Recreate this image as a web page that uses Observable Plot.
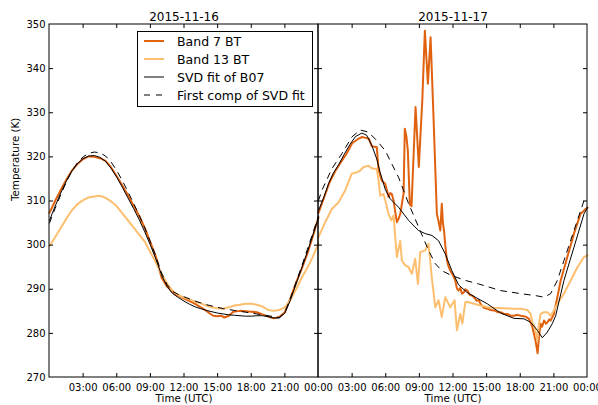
<!DOCTYPE html>
<html>
<head>
<meta charset="utf-8">
<script src="https://cdn.jsdelivr.net/npm/d3@7"></script>
<script src="https://cdn.jsdelivr.net/npm/@observablehq/plot@0.6"></script>
<style>
  body { margin: 0; background: #fff; }
  #wrap { position: relative; width: 598px; height: 405px; font-family: "DejaVu Sans", sans-serif; }
  #legend { position: absolute; left: 137px; top: 31px; width: 174px; height: 74px; border: 1px solid #000; background: #fff; font-size: 12.5px; color: #000; }
  #legend .row { display: flex; align-items: center; height: 18px; }
  #legend svg { margin-left: 6px; margin-right: 13px; }
</style>
</head>
<body>
<div id="wrap"></div>
<script>
// ---- data (hours since 00:00 UTC of each day, temperature K) ----
const dayTitles = ["2015-11-16", "2015-11-17"];
const dayOffsets = [0, 24];
const seriesNames = ["Band 7 BT", "Band 13 BT", "SVD fit of B07", "First comp of SVD fit"];
const yTicks = [270, 280, 290, 300, 310, 320, 330, 340, 350];
const xTicks = [3, 6, 9, 12, 15, 18, 21, 24, 27, 30, 33, 36, 39, 42, 45, 48];

const band7_d1 = [[0,307.3],[0.5,310],[1,312.5],[1.5,314.8],[2,316.9],[2.5,318.4],[3,319.5],[3.5,320.1],[4,320],[4.5,319.7],[5,319.1],[5.5,317.6],[6,315.6],[6.5,313.5],[7,311.3],[7.5,309],[8,306.6],[8.5,303.9],[9,300.6],[9.5,297.3],[10,292.6],[10.5,290.6],[11,289.3],[11.5,288.5],[12,287.9],[12.5,287.3],[13,286.7],[13.5,285.9],[14,285.1],[14.3,284.5],[14.6,284.0],[15,283.9],[15.3,284.0],[15.6,283.6],[16,284.0],[16.4,284.9],[17,285.1],[17.5,285.0],[18,284.9],[18.5,284.8],[19,284.3],[19.5,283.8],[20,283.4],[20.5,283.7],[21,284.8],[21.5,288],[22,291.5],[22.5,294.6],[23,298],[23.5,302],[24,306.3]];
const band13_d1 = [[0,299.8],[0.5,301.8],[1,303.9],[1.5,306],[2,307.9],[2.5,309.3],[3,310.2],[3.5,310.8],[4,311.0],[4.5,311.2],[5,310.7],[5.5,309.9],[6,308.8],[6.5,307.2],[7,305.6],[7.5,304],[8,302.4],[8.5,300.8],[9,298.4],[9.5,296],[10,293.4],[10.5,291.3],[11,289.6],[11.5,288.7],[12,288.1],[12.5,287.7],[13,287.2],[13.5,286.8],[14,286.3],[14.5,285.9],[15,285.7],[15.5,285.6],[16,285.9],[16.5,286.3],[17,286.5],[17.5,286.7],[18,286.7],[18.5,286.5],[19,286.1],[19.5,285.3],[20,285.1],[20.5,285.3],[21,285.9],[21.5,287.6],[22,290],[22.5,292.6],[23,294.8],[23.5,297.4],[24,300.4]];
const svd_d1 = [[0,305.6],[0.5,308.8],[1,311.8],[1.5,314.5],[2,316.8],[2.5,318.5],[3,319.6],[3.5,320.2],[4,320.3],[4.5,319.9],[5,319],[5.5,317.4],[6,315.4],[6.5,313.1],[7,310.7],[7.5,308.3],[8,305.8],[8.5,303],[9,300],[9.5,296.8],[10,293.2],[10.5,290.6],[11,289],[11.5,288.1],[12,287.3],[12.5,286.6],[13,286],[13.5,285.6],[14,285.2],[14.5,284.9],[15,284.6],[15.5,284.4],[16,284.2],[16.5,284.1],[17,284],[17.5,283.9],[18,283.9],[18.5,284],[19,284],[19.5,283.8],[20,283.5],[20.5,283.5],[21,284.6],[21.5,287.6],[22,291.2],[22.5,294.8],[23,298.4],[23.5,302.3],[24,306.2]];
const comp1_d1 = [[0,305.0],[0.5,308.3],[1,311.4],[1.5,314.3],[2,316.8],[2.5,318.7],[3,320],[3.5,320.8],[4,321.1],[4.5,320.9],[5,320.2],[5.5,318.8],[6,316.9],[6.5,314.6],[7,312.1],[7.5,309.5],[8,306.8],[8.5,303.9],[9,300.8],[9.5,297.4],[10,293.7],[10.5,291],[11,289.5],[11.5,288.8],[12,288.3],[12.5,287.8],[13,287.3],[13.5,286.9],[14,286.5],[14.5,286.2],[15,285.9],[15.5,285.6],[16,285.4],[16.5,285.2],[17,285],[17.5,284.8],[18,284.6],[18.5,284.4],[19,284.2],[19.5,284],[20,283.8],[20.5,283.6],[21,284.8],[21.5,288],[22,291.6],[22.5,295.2],[23,299],[23.5,302.8],[24,306.6]];

const band7_d2 = [[0,307.3],[0.5,310.8],[1,314.3],[1.5,316.8],[2,318.8],[2.5,320.7],[3,323.1],[3.5,324.0],[3.9,324.5],[4.2,324.3],[4.5,324.1],[4.76,322.4],[5.0,322.3],[5.2,322.2],[5.36,317.0],[5.65,314.6],[5.95,313.9],[6.1,312.5],[6.25,310.9],[6.4,311.8],[6.54,311.6],[6.7,310.1],[6.85,307.5],[7.0,305.2],[7.15,306],[7.3,307.1],[7.45,309.5],[7.59,311.6],[7.7,326.4],[7.85,324.5],[7.97,321.4],[8.15,309.2],[8.3,308.8],[8.66,331.3],[8.95,317.7],[9.26,332.8],[9.49,348.6],[9.76,336.6],[10.0,347.1],[10.24,330.5],[10.56,307.1],[10.7,305.5],[10.87,303.3],[11.0,309.4],[11.1,305],[11.2,303.3],[11.33,299.5],[11.46,296.5],[11.6,295.2],[11.76,294.2],[12.0,293.2],[12.2,292.0],[12.35,290.2],[12.5,289.7],[12.65,290.3],[12.8,289.0],[12.97,289.3],[13.1,290.0],[13.28,289.7],[13.5,288.7],[13.7,288.6],[13.87,288.2],[14.1,287.4],[14.3,287.5],[14.46,286.7],[14.75,285.8],[15.06,285.6],[15.35,285.3],[15.65,285.2],[16.0,284.8],[16.25,284.8],[16.55,284.4],[16.85,284.4],[17.15,284.0],[17.44,284.0],[17.75,284.2],[18.04,284.0],[18.3,283.9],[18.48,283.8],[18.78,283.3],[18.95,282.3],[19.08,281.4],[19.22,279.9],[19.35,278.5],[19.46,276.9],[19.55,275.5],[19.67,279.1],[19.82,282.2],[19.95,281.5],[20.12,282.9],[20.3,282.2],[20.42,282.5],[20.6,283.2],[20.71,282.9],[21.0,284.4],[21.31,288.2],[21.61,292.0],[22.2,297.3],[22.79,302.6],[23.39,307.1],[23.84,308.2],[24,308.5]];
const band13_d2 = [[0,301.8],[0.6,305.2],[1.19,308.2],[1.79,309.7],[2.38,312.4],[2.97,316.2],[3.42,316.5],[3.72,316.9],[4.02,317.7],[4.46,318.0],[4.7,317.5],[4.91,317.3],[5.2,317.3],[5.36,314.6],[5.51,311.2],[5.8,311.6],[5.96,310.1],[6.25,307.1],[6.49,305.6],[6.7,306.7],[6.99,297.3],[7.29,301],[7.44,296.5],[7.74,295.4],[8.04,295.0],[8.33,293.5],[8.63,296.9],[8.87,291.2],[9.08,298.4],[9.53,298.8],[9.82,300.3],[10.12,292.4],[10.42,285.9],[10.71,287.5],[11.0,283.7],[11.31,288.2],[11.76,285.9],[12.14,287.5],[12.35,280.7],[12.65,284.4],[12.83,282.2],[13.1,287.1],[13.28,287.1],[13.87,286.7],[14.46,286.3],[15.06,285.9],[15.65,285.8],[16.54,285.7],[17.44,285.6],[18.04,285.6],[18.63,285.3],[18.93,284.4],[19.08,282.5],[19.29,281.4],[19.53,278.4],[19.67,282.2],[19.82,284.4],[20.12,284.8],[20.42,284.8],[20.71,284.0],[21.0,285.2],[21.31,286.7],[21.9,289],[22.5,292],[23.1,295],[23.69,297.3],[24,297.7]];
const svd_d2 = [[0,307.8],[0.5,311.0],[0.89,313.9],[1.3,316.2],[1.79,318.2],[2.3,320.6],[2.8,322.8],[3.3,324.6],[3.87,325.4],[4.3,324.9],[4.76,322.6],[5.2,319.5],[5.51,316.4],[5.96,312.6],[6.4,310.5],[7.14,308.6],[8.04,305.6],[8.93,303.3],[9.53,302.6],[10.12,302.2],[10.71,301],[11.31,298],[11.9,294.2],[12.5,291],[13.24,289.3],[13.99,288.2],[15.06,286.7],[16.25,284.6],[17.44,283.4],[18.33,283.3],[18.93,282.5],[19.53,280.7],[19.97,279.0],[20.42,280.3],[20.86,282.2],[21.16,284.0],[21.9,292],[22.79,299.5],[23.69,307.1],[24,308.5]];
const comp1_d2 = [[0,310.1],[0.3,312.4],[1.19,317.3],[2.08,320.7],[2.97,324.5],[3.72,326.1],[4.46,325.6],[5.2,323.7],[5.96,321.4],[6.54,318.4],[7.14,315.4],[8.04,309.4],[8.93,304.1],[9.82,298.8],[10.42,295.8],[11.0,294.2],[11.9,293.1],[13.1,292.0],[14.29,291.2],[16.25,289.7],[18.04,289.0],[19.5,288.5],[20.12,288.2],[20.71,289.0],[21.31,292],[21.9,296.5],[22.79,303.3],[23.69,310.1],[24,310.5]];

// ---- styles ----
const colors = ["#e0620f", "#fdbf6f", "#000000", "#000000"];
const widths = [2, 2, 1, 1];
const dashes = [null, null, null, "6,6"];

// ---- build rows ----
const seriesByDay = [
  [band7_d1, band13_d1, svd_d1, comp1_d1],
  [band7_d2, band13_d2, svd_d2, comp1_d2]
];
function rowsFor(k) {
  const rows = [];
  seriesByDay.forEach((list, d) => {
    list[k].forEach(([h, v]) => rows.push({t: dayOffsets[d] + h, v, day: d}));
  });
  return rows;
}
const fmt = h => String(h % 24).padStart(2, "0") + ":00";

const W = 598, H = 405, mL = 49, mR = 11, mT = 24, mB = 28;
const xMax = 48;
const pxPerHour = (W - mL - mR) / xMax;
const pxPerK = (H - mT - mB) / (yTicks[yTicks.length - 1] - yTicks[0]);
const tickLen = 4;
const tH = tickLen / pxPerHour, tK = tickLen / pxPerK;
const yInner = yTicks.slice(1, -1);
const xInner = xTicks.filter(d => d % 24 !== 0);
const panels = dayOffsets.map((o, i) => ({x1: o, x2: o + 24, title: dayTitles[i], c: o + 12}));

const lineMarks = seriesNames.map((name, k) =>
  Plot.line(rowsFor(k), {x: "t", y: "v", z: "day", stroke: colors[k], strokeWidth: widths[k],
    strokeDasharray: dashes[k] || undefined, curve: "linear"}));

const chart = Plot.plot({
  width: W, height: H,
  marginLeft: mL, marginRight: mR, marginTop: mT, marginBottom: mB,
  x: {domain: [0, xMax]},
  y: {domain: [yTicks[0], yTicks[yTicks.length - 1]]},
  style: {fontFamily: "DejaVu Sans", fontSize: "10px", color: "#000", background: "white", overflow: "visible"},
  marks: [
    ...lineMarks,
    Plot.rect(panels, {x1: "x1", x2: "x2", y1: yTicks[0], y2: yTicks[yTicks.length - 1], fill: "none", stroke: "#000", strokeWidth: 1}),
    // inward ticks
    Plot.ruleY(yInner, {y: d => d, x1: 0, x2: tH, stroke: "#000"}),
    Plot.ruleY(yInner, {y: d => d, x1: 24 - tH, x2: 24 + tH, stroke: "#000"}),
    Plot.ruleY(yInner, {y: d => d, x1: xMax - tH, x2: xMax, stroke: "#000"}),
    Plot.ruleX(xInner, {x: d => d, y1: yTicks[0], y2: yTicks[0] + tK, stroke: "#000"}),
    Plot.ruleX(xInner, {x: d => d, y1: yTicks[yTicks.length - 1], y2: yTicks[yTicks.length - 1] - tK, stroke: "#000"}),
    // tick labels
    Plot.axisY(yTicks, {anchor: "left", tickSize: 0, tickPadding: 4, label: null}),
    Plot.axisX(xTicks, {anchor: "bottom", tickSize: 0, tickPadding: 6, tickFormat: fmt, label: null}),
    // titles and axis labels
    Plot.text(panels, {x: "c", text: "title", frameAnchor: "top", lineAnchor: "bottom", dy: -3.5, fontSize: 12}),
    Plot.text(panels, {x: "c", text: () => "Time (UTC)", frameAnchor: "bottom", lineAnchor: "bottom", dy: 24.3, fontSize: 10.3}),
    Plot.text(["Temperature (K)"], {text: d => d, frameAnchor: "left", rotate: -90, dx: -33.3, fontSize: 10.3})
  ]
});

const wrap = document.getElementById("wrap");
wrap.appendChild(chart);

// legend (inside left panel)
const legend = document.createElement("div");
legend.id = "legend";
seriesNames.forEach((name, k) => {
  const row = document.createElement("div");
  row.className = "row";
  const dash = dashes[k] ? ` stroke-dasharray="${dashes[k]}"` : "";
  row.innerHTML = `<svg width="20" height="6"><line x1="0" y1="3" x2="20" y2="3" stroke="${colors[k]}" stroke-width="${widths[k]}"${dash}/></svg><span>${name}</span>`;
  legend.appendChild(row);
});
wrap.appendChild(legend);
</script>
</body>
</html>
